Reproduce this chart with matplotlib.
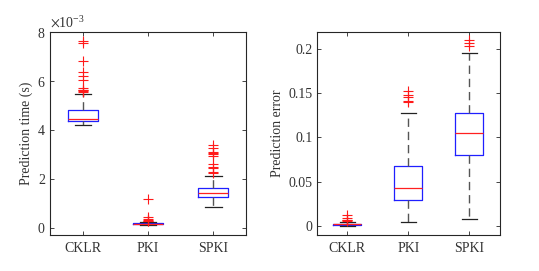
import matplotlib
matplotlib.use("Agg")
import matplotlib.pyplot as plt
import matplotlib.ticker as ticker

plt.rcParams.update({
    "font.family": "serif",
    "font.serif": ["Liberation Serif", "Times New Roman", "DejaVu Serif"],
    "mathtext.fontset": "stix",
    "font.size": 10,
    "xtick.direction": "in",
    "ytick.direction": "in",
    "xtick.top": True,
    "ytick.right": True,
    "axes.edgecolor": "#262626",
    "xtick.color": "#262626",
    "ytick.color": "#262626",
    "axes.linewidth": 0.8,
})

methods = ["CKLR", "PKI", "SPKI"]

# prediction time, in units of 1e-3 s
time_whislo = [4.20, 0.10, 0.85]
time_q1 = [4.35, 0.14, 1.25]
time_med = [4.45, 0.17, 1.42]
time_q3 = [4.80, 0.20, 1.62]
time_whishi = [5.48, 0.25, 2.10]
time_fliers = [
    [7.65, 7.55, 6.80, 6.35, 6.20, 6.05, 5.70, 5.65, 5.62, 5.58, 5.55],
    [1.17, 0.45, 0.38, 0.33, 0.30, 0.28],
    [3.38, 3.28, 3.10, 3.05, 3.00, 2.95, 2.62, 2.50, 2.45, 2.30, 2.25],
]

# prediction error
err_whislo = [0.000, 0.004, 0.008]
err_q1 = [0.0005, 0.029, 0.080]
err_med = [0.0015, 0.043, 0.105]
err_q3 = [0.0025, 0.068, 0.127]
err_whishi = [0.004, 0.127, 0.195]
err_fliers = [
    [0.012, 0.009, 0.007, 0.006, 0.005],
    [0.152, 0.148, 0.145, 0.141, 0.140],
    [0.210, 0.207, 0.203],
]


def make_stats(lo, q1, med, q3, hi, fl, scale=1.0):
    stats = []
    for i in range(len(methods)):
        stats.append({
            "label": methods[i],
            "whislo": lo[i] * scale, "q1": q1[i] * scale, "med": med[i] * scale,
            "q3": q3[i] * scale, "whishi": hi[i] * scale,
            "fliers": [v * scale for v in fl[i]],
        })
    return stats


def draw(ax, stats):
    ax.bxp(stats, positions=[1, 2, 3], widths=0.46, capwidths=0.25,
           boxprops=dict(color="#1f1fff", linewidth=0.9),
           medianprops=dict(color="#ff2020", linewidth=0.9),
           whiskerprops=dict(color="#555555", linewidth=1.0, linestyle=(0, (6, 3.5))),
           capprops=dict(color="#222222", linewidth=0.9),
           flierprops=dict(marker="+", markeredgecolor="#ff1a1a", markersize=7,
                           markeredgewidth=0.8, linestyle="none"))
    ax.set_xlim(0.5, 3.5)
    ax.tick_params(axis="both", length=3, width=0.6, pad=3, labelcolor="#333333")
    ax.tick_params(axis="x", pad=5)


fig = plt.figure(figsize=(5.39, 2.71), dpi=100)

ax1 = fig.add_axes([0.0928, 0.1328, 0.3636, 0.749])
draw(ax1, make_stats(time_whislo, time_q1, time_med, time_q3, time_whishi, time_fliers, 1e-3))
ax1.set_ylim(-0.29e-3, 8e-3)
ax1.set_yticks([0, 2e-3, 4e-3, 6e-3, 8e-3])
fmt = ticker.ScalarFormatter(useMathText=True)
fmt.set_powerlimits((-2, 2))
ax1.yaxis.set_major_formatter(fmt)
ax1.yaxis.get_offset_text().set_color("#333333")
ax1.set_ylabel("Prediction time (s)", labelpad=3, color="#333333")

ax2 = fig.add_axes([0.588, 0.1328, 0.3395, 0.749])
draw(ax2, make_stats(err_whislo, err_q1, err_med, err_q3, err_whishi, err_fliers))
ax2.set_ylim(-0.0105, 0.219)
ax2.set_yticks([0, 0.05, 0.1, 0.15, 0.2])
ax2.set_yticklabels(["0", "0.05", "0.1", "0.15", "0.2"])
ax2.set_ylabel("Prediction error", labelpad=3, color="#333333")

fig.savefig("out.png", dpi=100)
